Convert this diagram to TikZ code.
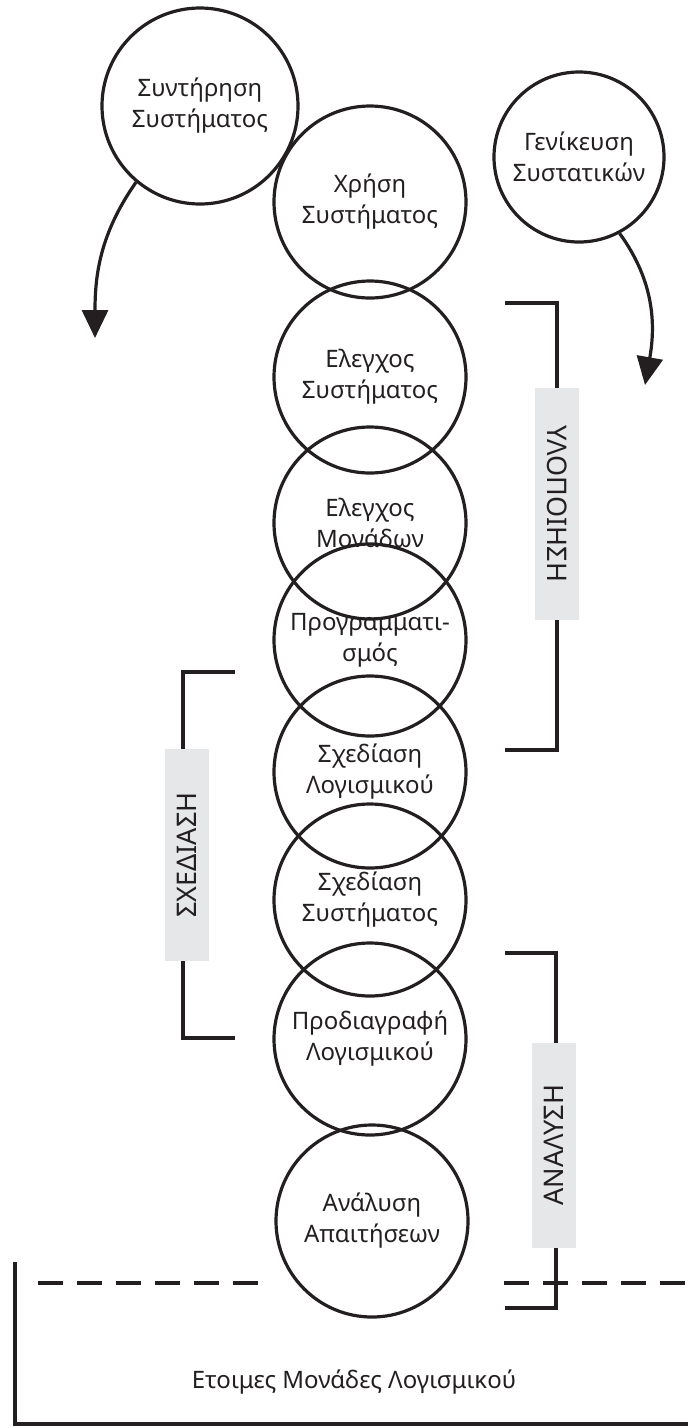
\documentclass[tikz,border=0pt]{standalone}
\usepackage{fontspec}
\setmainfont{Noto Sans}
\usepackage{xcolor}
\usepackage{tikz}
\usetikzlibrary{arrows.meta,shapes}
\definecolor{inkgray}{HTML}{231F20}
\definecolor{labelgray}{HTML}{E6E7E8}

\begin{document}
\begin{tikzpicture}[x=1pt,y=-1pt,
    phase/.style={circle,draw=inkgray,line width=3.2pt,minimum size=192pt,inner sep=0pt,align=center,text=inkgray,font=\fontsize{24}{31}\selectfont},
    tag/.style={fill=labelgray,minimum height=44pt,inner sep=0pt,text=inkgray,font=\fontsize{27}{30}\selectfont},
    bracket/.style={draw=inkgray,line width=3.2pt},
    curvearrow/.style={draw=inkgray,line width=3.2pt,-{Triangle[length=28pt,width=26pt]}}]
    \useasboundingbox (0,0) rectangle (688,1428);

    % Central column of phases
    \node[phase] (use)       at (370,202)  {Χρήση\\Συστήματος};
    \node[phase] (systest)   at (370,377)  {Ελεγχος\\Συστήματος};
    \node[phase] (unittest)  at (370,523)  {Ελεγχος\\Μονάδων};
    \node[phase] (coding)    at (370,640)  {Προγραμματι-\\σμός};
    \node[phase] (swdesign)  at (370,772)  {Σχεδίαση\\Λογισμικού};
    \node[phase] (sysdesign) at (370,900)  {Σχεδίαση\\Συστήματος};
    \node[phase] (swspec)    at (370,1039) {Προδιαγραφή\\Λογισμικού};
    \node[phase] (reqs)      at (372,1221) {Ανάλυση\\Απαιτήσεων};

    % Side circles with their arrows
    \node[phase,minimum size=196pt] (maint) at (200,106) {Συντήρηση\\Συστήματος};
    \node[phase,minimum size=170pt] (reuse) at (579,157) {Γενίκευση\\Συστατικών};
    \coordinate (tipL) at (95,338);
    \coordinate (tipR) at (645,385);
    \draw[curvearrow] (maint.230) to[out=235,in=90] (tipL);
    \draw[curvearrow] (reuse.298) to[out=306,in=80] (tipR);

    % Brackets with grey tags
    \draw[bracket] (505,303) -- (557,303) -- (557,750) -- (505,750);
    \node[tag,rotate=-90,minimum width=232pt] (tagimpl) at (557,504) {ΥΛΟΠΟΙΗΣΗ};

    \draw[bracket] (235,672) -- (183,672) -- (183,1038) -- (235,1038);
    \node[tag,rotate=90,minimum width=212pt] (tagdesign) at (187,855) {ΣΧΕΔΙΑΣΗ};

    \draw[bracket] (505,953) -- (556,953) -- (556,1308) -- (505,1308);
    \node[tag,rotate=90,minimum width=205pt] (taganal) at (554,1145) {ΑΝΑΛΥΣΗ};

    % Ready units at the bottom
    \draw[bracket] (15,1262) -- (15,1424) -- (690,1424);
    \draw[draw=inkgray,line width=3.8pt,dash pattern=on 25pt off 14pt] (38,1283) -- (259,1283);
    \draw[draw=inkgray,line width=3.8pt,dash pattern=on 25pt off 14pt] (504,1283) -- (690,1283);
    \node[text=inkgray,font=\fontsize{24}{28}\selectfont] (ready) at (354,1382) {Ετοιμες Μονάδες Λογισμικού};
\end{tikzpicture}
\end{document}
